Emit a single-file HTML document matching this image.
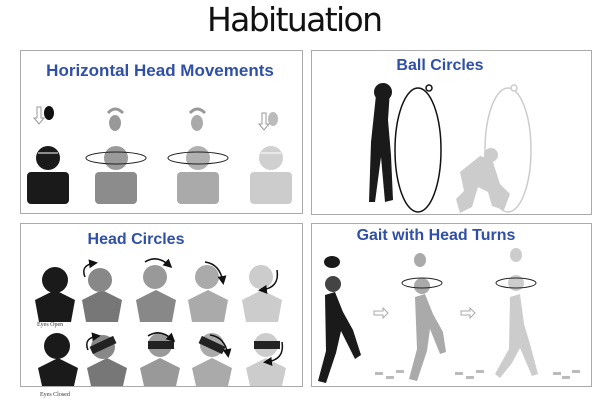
<!DOCTYPE html>
<html><head><style>
body{margin:0;background:#fff;width:600px;height:400px;overflow:hidden}
svg{display:block}
</style></head><body>
<svg width="600" height="400" viewBox="0 0 600 400" xmlns="http://www.w3.org/2000/svg" font-family="Liberation Sans, sans-serif">
<defs>
<marker id="ah" markerWidth="6" markerHeight="6" refX="4" refY="3" orient="auto"><path d="M0,0 L6,3 L0,6 z" fill="#111"/></marker>
</defs>
<text x="295" y="31" text-anchor="middle" font-size="33" fill="#111" font-family="DejaVu Sans, sans-serif" textLength="176">Habituation</text>
<rect x="20.5" y="50.5" width="282" height="163" fill="none" stroke="#aaa"/>
<rect x="311.5" y="50.5" width="280" height="164" fill="none" stroke="#aaa"/>
<rect x="20.5" y="223.5" width="282" height="163" fill="none" stroke="#aaa"/>
<rect x="311.5" y="223.5" width="280" height="163" fill="none" stroke="#aaa"/>
<g font-weight="bold" fill="#2f4fa8">
<text x="160" y="76" text-anchor="middle" font-size="17">Horizontal Head Movements</text>
<text x="440" y="70" text-anchor="middle" font-size="16">Ball Circles</text>
<text x="136" y="244" text-anchor="middle" font-size="16">Head Circles</text>
<text x="436" y="240" text-anchor="middle" font-size="16">Gait with Head Turns</text>
</g>
<!-- TL -->
<g>
<rect x="27" y="172" width="42" height="32" rx="4" fill="#1a1a1a"/><circle cx="48" cy="158" r="12" fill="#1a1a1a"/><line x1="38" y1="153" x2="58" y2="153" stroke="#fff"/>
<rect x="95" y="172" width="42" height="32" rx="4" fill="#8c8c8c"/><circle cx="116" cy="158" r="12" fill="#9a9a9a"/>
<rect x="177" y="172" width="42" height="32" rx="4" fill="#aaa"/><circle cx="198" cy="158" r="12" fill="#b0b0b0"/>
<rect x="250" y="172" width="42" height="32" rx="4" fill="#ccc"/><circle cx="271" cy="158" r="12" fill="#d0d0d0"/><line x1="261" y1="153" x2="281" y2="153" stroke="#fff"/>
<ellipse cx="116" cy="158" rx="30" ry="6" fill="none" stroke="#222" stroke-width="1"/>
<ellipse cx="198" cy="158" rx="30" ry="6" fill="none" stroke="#222" stroke-width="1"/>
<ellipse cx="49" cy="113" rx="5" ry="7" fill="#111"/><path d="M37 107v11h-3l5 6 5-6h-3v-11z" fill="none" stroke="#999"/>
<ellipse cx="115" cy="123" rx="6" ry="8" fill="#999"/><path d="M108 113q7-8 15 0" fill="none" stroke="#999" stroke-width="3"/>
<ellipse cx="197" cy="123" rx="6" ry="8" fill="#aaa"/><path d="M190 113q7-8 15 0" fill="none" stroke="#999" stroke-width="3"/>
<ellipse cx="273" cy="119" rx="5" ry="7" fill="#bbb"/><path d="M262 113v11h-3l5 6 5-6h-3v-11z" fill="none" stroke="#999"/>
</g>
<!-- BL -->
<g>
<path d="M35 300l20-10 20 10-4 22h-32z" fill="#1a1a1a"/><circle cx="55" cy="280" r="13" fill="#1a1a1a"/>
<path d="M82 300l20-10 20 10-4 22h-32z" fill="#777"/><circle cx="100" cy="280" r="12" fill="#888"/>
<path d="M136 300l20-10 20 10-4 22h-32z" fill="#888"/><circle cx="155" cy="277" r="12" fill="#999"/>
<path d="M188 300l20-10 20 10-4 22h-32z" fill="#aaa"/><circle cx="207" cy="277" r="12" fill="#aaa"/>
<path d="M242 300l20-10 20 10-4 22h-32z" fill="#ccc"/><circle cx="261" cy="277" r="12" fill="#ccc"/>
<path d="M38 368l20-10 20 10-4 18h-32z" fill="#1a1a1a"/><circle cx="57" cy="346" r="13" fill="#1a1a1a"/>
<path d="M87 368l20-10 20 10-4 18h-32z" fill="#777"/><circle cx="103" cy="347" r="12" fill="#888"/><rect x="90" y="341" width="26" height="8" fill="#222" transform="rotate(-25 103 345)"/>
<path d="M140 368l20-10 20 10-4 18h-32z" fill="#999"/><circle cx="160" cy="345" r="12" fill="#999"/><rect x="148" y="341" width="26" height="8" fill="#222"/>
<path d="M192 368l20-10 20 10-4 18h-32z" fill="#aaa"/><circle cx="212" cy="345" r="12" fill="#aaa"/><rect x="199" y="341" width="26" height="8" fill="#222" transform="rotate(25 212 345)"/>
<path d="M246 368l20-10 20 10-4 18h-32z" fill="#ccc"/><circle cx="266" cy="345" r="12" fill="#ccc"/><rect x="254" y="341" width="26" height="8" fill="#222"/>
<g fill="none" stroke="#111" stroke-width="1.5">
<path d="M85 277q-5-12 10-14" marker-end="url(#ah)"/><path d="M145 262q12-8 25 4" marker-end="url(#ah)"/>
<path d="M205 262q15 2 18 20" marker-end="url(#ah)"/><path d="M277 270q3 18-16 20" marker-end="url(#ah)"/>
<path d="M88 350q-5-12 10-14" marker-end="url(#ah)"/><path d="M148 336q12-8 25 4" marker-end="url(#ah)"/>
<path d="M210 335q15 2 18 20" marker-end="url(#ah)"/><path d="M282 342q3 18-16 20" marker-end="url(#ah)"/>
</g>
<text x="37" y="326" font-size="6" font-family="Liberation Serif, serif" fill="#333">Eyes Open</text>
<text x="40" y="396" font-size="6" font-family="Liberation Serif, serif" fill="#333">Eyes Closed</text>
</g>
<!-- TR -->
<g>
<path d="M376 95l6-10 8 5-2 30 3 35 2 45-8 2-4-45-6 45h-6l2-60z" fill="#1a1a1a"/>
<circle cx="383" cy="92" r="9" fill="#1a1a1a"/>
<ellipse cx="418" cy="150" rx="23" ry="62" fill="none" stroke="#111" stroke-width="1.5"/>
<circle cx="429" cy="88" r="3" fill="#fff" stroke="#111" stroke-width="1.5"/>
<ellipse cx="508" cy="150" rx="23" ry="62" fill="none" stroke="#ccc" stroke-width="1.5"/>
<circle cx="514" cy="88" r="3" fill="#fff" stroke="#ccc" stroke-width="1.5"/>
<path d="M460 172l20-16 12 3 8 25 10 10-6 16-12-4-4-14-10-5-6 20-12 6-4-14 8-8z" fill="#ccc"/>
<circle cx="491" cy="155" r="7" fill="#ccc"/>
</g>
<!-- BR -->
<g>
<ellipse cx="332" cy="262" rx="8" ry="6" fill="#1a1a1a"/><circle cx="333" cy="284" r="8" fill="#444"/>
<path d="M325 295l10-3 8 20 10 18 8 25-6 4-14-28-5 22-10 30-8-2 8-30z" fill="#1a1a1a"/>
<ellipse cx="420" cy="260" rx="6" ry="7" fill="#aaa"/><circle cx="422" cy="286" r="8" fill="#aaa"/>
<ellipse cx="422" cy="283" rx="20" ry="5" fill="none" stroke="#222"/>
<path d="M415 297l10-3 8 20 10 18 3 20-6 2-10-25-3 22-10 30-8-2 8-30z" fill="#aaa"/>
<ellipse cx="516" cy="255" rx="6" ry="7" fill="#ccc"/><circle cx="516" cy="283" r="8" fill="#ccc"/>
<ellipse cx="516" cy="283" rx="20" ry="5" fill="none" stroke="#222"/>
<path d="M510 297l10-3 4 30 6 20 8 30-6 2-12-28-8 15-12 15-5-4 14-25z" fill="#ccc"/>
<g fill="none" stroke="#aaa"><path d="M374 311h9v-3l5 5-5 5v-3h-9z"/><path d="M461 311h9v-3l5 5-5 5v-3h-9z"/></g>
<g fill="#bbb"><rect x="375" y="372" width="8" height="3"/><rect x="386" y="376" width="8" height="3"/><rect x="396" y="370" width="8" height="3"/>
<rect x="455" y="372" width="8" height="3"/><rect x="466" y="376" width="8" height="3"/><rect x="476" y="370" width="8" height="3"/>
<rect x="553" y="372" width="8" height="3"/><rect x="562" y="376" width="8" height="3"/><rect x="572" y="370" width="8" height="3"/></g>
</g>
</svg>
</body></html>
